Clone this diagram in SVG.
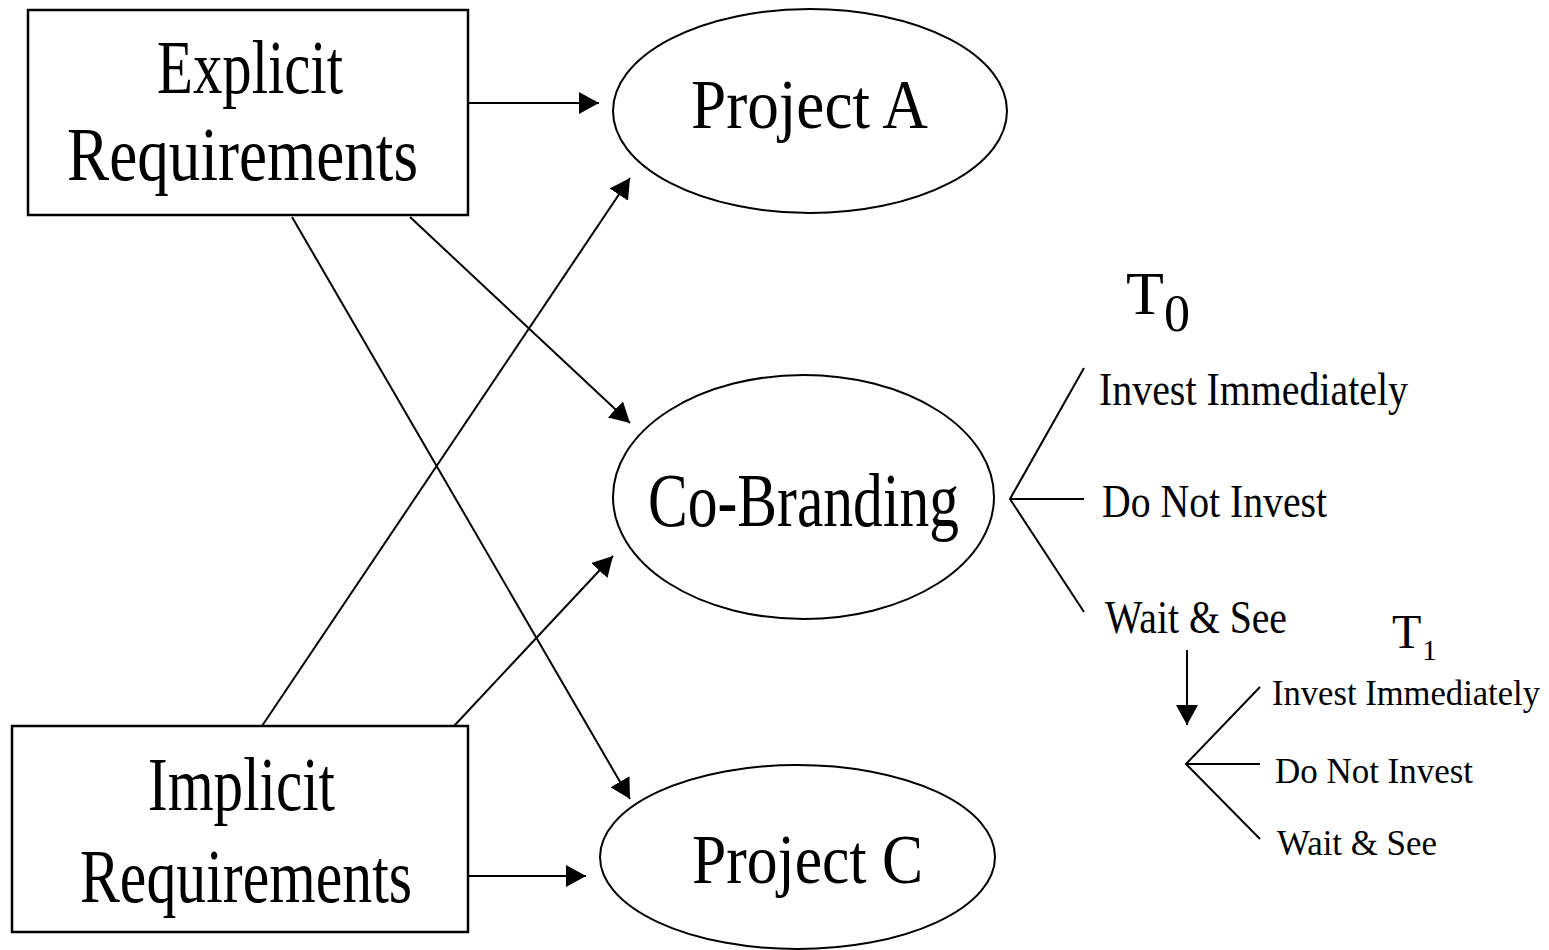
<svg xmlns="http://www.w3.org/2000/svg" width="1549" height="950" viewBox="0 0 1549 950">
<style>
.box{fill:#fff;stroke:#000;stroke-width:2.5}
.ell{fill:#fff;stroke:#000;stroke-width:2}
.edge{fill:none;stroke:#000;stroke-width:2}
.br{fill:none;stroke:#000;stroke-width:2}
text{font-family:"Liberation Serif","Times New Roman",serif;fill:#000}
.big{font-size:76px}
.mid{font-size:70px}
.lbl0{font-size:46px}
.lbl1{font-size:36px}
</style>
<defs>
<marker id="arr" viewBox="0 0 20 22" refX="20" refY="11" markerWidth="20" markerHeight="22" markerUnits="userSpaceOnUse" orient="auto">
<path d="M0,0 L20,11 L0,22 Z" fill="#000"/>
</marker>
</defs>
<rect width="1549" height="950" fill="#fff"/>
<g id="connectors">
<line class="edge" x1="468" y1="103" x2="599" y2="103" marker-end="url(#arr)"/>
<line class="edge" x1="410" y1="217" x2="630" y2="423" marker-end="url(#arr)"/>
<line class="edge" x1="292" y1="217" x2="630" y2="799" marker-end="url(#arr)"/>
<line class="edge" x1="262" y1="726" x2="630" y2="178" marker-end="url(#arr)"/>
<line class="edge" x1="454" y1="726" x2="613" y2="556" marker-end="url(#arr)"/>
<line class="edge" x1="468" y1="876" x2="586" y2="876" marker-end="url(#arr)"/>
<line class="edge" x1="1187" y1="650" x2="1187" y2="725" marker-end="url(#arr)"/>
</g>
<g id="explicit">
<rect class="box" x="28" y="10" width="440" height="205"/>
<text class="big" x="157" y="93" textLength="186" lengthAdjust="spacingAndGlyphs">Explicit</text>
<text class="big" x="67" y="180" textLength="351" lengthAdjust="spacingAndGlyphs">Requirements</text>
</g>
<g id="implicit">
<rect class="box" x="12" y="726" width="456" height="206"/>
<text class="big" x="148" y="810" textLength="187" lengthAdjust="spacingAndGlyphs">Implicit</text>
<text class="big" x="80" y="902" textLength="332" lengthAdjust="spacingAndGlyphs">Requirements</text>
</g>
<g id="projectA">
<ellipse class="ell" cx="810" cy="111" rx="197" ry="102"/>
<text class="mid" x="691" y="128" textLength="237" lengthAdjust="spacingAndGlyphs">Project A</text>
</g>
<g id="cobranding">
<ellipse class="ell" cx="803.5" cy="497" rx="190.5" ry="122"/>
<text class="big" x="648" y="526" textLength="311" lengthAdjust="spacingAndGlyphs">Co-Branding</text>
</g>
<g id="projectC">
<ellipse class="ell" cx="797.5" cy="857" rx="197.5" ry="92"/>
<text class="mid" x="692" y="883" textLength="231" lengthAdjust="spacingAndGlyphs">Project C</text>
</g>
<g id="t0">
<text x="1126" y="314" style="font-size:62px">T<tspan x="1164" y="331" style="font-size:52px">0</tspan></text>
<path class="br" d="M1084,368 L1010,499 L1084,612 M1010,499 L1084,499"/>
<text class="lbl0" x="1099" y="405" textLength="309" lengthAdjust="spacingAndGlyphs">Invest Immediately</text>
<text class="lbl0" x="1102" y="517" textLength="225" lengthAdjust="spacingAndGlyphs">Do Not Invest</text>
<text class="lbl0" x="1105" y="633" textLength="182" lengthAdjust="spacingAndGlyphs">Wait &amp; See</text>
</g>
<g id="t1">
<text x="1392" y="648" style="font-size:48px">T<tspan x="1422" y="660" style="font-size:30px">1</tspan></text>
<path class="br" d="M1260,687 L1186,764 L1260,839 M1186,764 L1260,764"/>
<text class="lbl1" x="1272" y="705" textLength="268" lengthAdjust="spacingAndGlyphs">Invest Immediately</text>
<text class="lbl1" x="1275" y="783" textLength="198" lengthAdjust="spacingAndGlyphs">Do Not Invest</text>
<text class="lbl1" x="1277" y="855" textLength="160" lengthAdjust="spacingAndGlyphs">Wait &amp; See</text>
</g>
</svg>
